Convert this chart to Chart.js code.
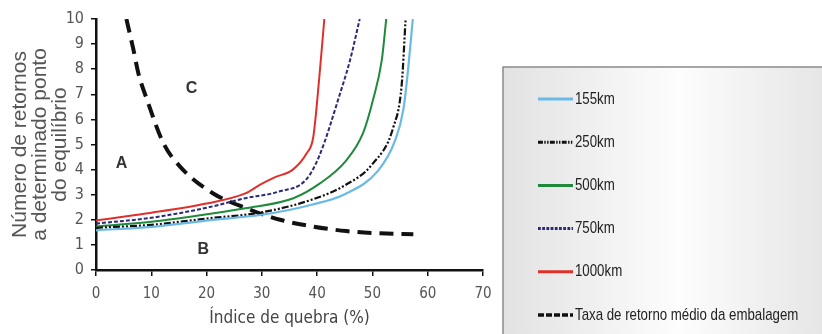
<!DOCTYPE html>
<html>
<head>
<meta charset="utf-8">
<script src="https://cdn.jsdelivr.net/npm/chart.js@4"></script>
<style>
    body { margin: 0; background: #fff; }
    #wrap { width: 822px; height: 334px; position: relative; }
</style>
</head>
<body>
<div id="wrap"><canvas id="breakChart"></canvas></div>
<script>
// ======== DATA ========
const xTicks = [0, 10, 20, 30, 40, 50, 60, 70];
const yTicks = [0, 1, 2, 3, 4, 5, 6, 7, 8, 9, 10];

const x155 = [0, 10, 20, 30, 39, 45, 51, 54, 55.6, 56.5, 57.3];
const y155 = [1.58, 1.72, 1.97, 2.2, 2.6, 3.02, 3.95, 5.1, 6.4, 8.1, 10];

const x250 = [0, 10, 20, 30, 39, 45, 50, 53.8, 55.3, 56];
const y250 = [1.68, 1.8, 2.05, 2.3, 2.8, 3.37, 4.22, 5.7, 7.4, 10];

const x500 = [0, 10, 20, 27, 35.7, 40.5, 45.2, 48.3, 50.1, 51.7, 52.5];
const y500 = [1.73, 1.92, 2.22, 2.46, 2.86, 3.45, 4.35, 5.45, 6.77, 8.37, 10];

const x750 = [0, 10, 20, 27, 33, 38, 40.4, 44.1, 46, 47.7];
const y750 = [1.85, 2.08, 2.48, 2.86, 3.12, 3.6, 4.55, 7.0, 8.4, 10];

const x1000 = [0, 9, 20, 27, 29.7, 32.4, 35.6, 38.1, 39.3, 40.4, 41.3];
const y1000 = [1.97, 2.25, 2.65, 3.05, 3.4, 3.7, 4.0, 4.65, 5.3, 7.7, 10];

const xTaxa = [5.5, 6.75, 7.65, 9.2, 12.2, 15.2, 21.2, 27.2, 33.3, 39.3, 45.3, 51.4, 57.4];
const yTaxa = [10, 8.8, 7.85, 6.8, 5.05, 4.12, 3.05, 2.46, 2.0, 1.73, 1.55, 1.46, 1.42];

const regionLabels = ["A", "B", "C"];
const regionX = [4.6, 19.4, 17.3];
const regionY = [4.25, 0.8, 7.24];

// ======== HELPERS ========
const toPoints = (xs, ys) => xs.map((x, i) => ({ x: x, y: ys[i] }));
const narrow = '"Liberation Sans Narrow", "Arial Narrow", "DejaVu Sans Condensed", sans-serif';
const arial = '"Liberation Sans", Arial, sans-serif';

function series(label, xs, ys, color, width, dash) {
    return {
        label: label,
        data: toPoints(xs, ys),
        borderColor: color,
        backgroundColor: color,
        borderWidth: width,
        borderDash: dash,
        pointRadius: 0,
        cubicInterpolationMode: "monotone",
        fill: false,
    };
}

// ======== LETTERS + LEGEND PLUGIN ========
const extras = {
    id: "extras",
    afterDatasetsDraw(chart) {
        const { ctx, scales } = chart;
        ctx.save();
        ctx.fillStyle = "#333";
        ctx.font = "bold 16px " + arial;
        ctx.textAlign = "center";
        ctx.textBaseline = "middle";
        regionLabels.forEach((t, i) => {
            ctx.fillText(t, scales.x.getPixelForValue(regionX[i]), scales.y.getPixelForValue(regionY[i]));
        });

        // legend box
        const bx = 503, by = 67;
        const grad = ctx.createLinearGradient(bx, 0, 822, 0);
        grad.addColorStop(0, "#e2e2e2");
        grad.addColorStop(0.55, "#fdfdfd");
        grad.addColorStop(1, "#e6e6e6");
        ctx.fillStyle = grad;
        ctx.fillRect(bx, by, 822 - bx, 334 - by);
        ctx.strokeStyle = "#8a8a8a";
        ctx.lineWidth = 1.5;
        ctx.beginPath();
        ctx.moveTo(bx, 334);
        ctx.lineTo(bx, by);
        ctx.lineTo(822, by);
        ctx.stroke();

        ctx.textAlign = "left";
        ctx.font = "17px " + arial;
        chart.data.datasets.forEach((ds, di) => {
            const y = 99 + di * 43.2;
            ctx.strokeStyle = ds.borderColor;
            ctx.lineWidth = di === 5 ? 3.5 : 3;
            ctx.setLineDash(di === 5 ? [6, 2] : (ds.borderDash || []).map((d) => d * 0.7));
            ctx.beginPath();
            ctx.moveTo(538, y);
            ctx.lineTo(573, y);
            ctx.stroke();
            ctx.setLineDash([]);
            ctx.fillStyle = "#222";
            ctx.save();
            ctx.translate(575, y);
            ctx.scale(0.78, 1);
            ctx.fillText(ds.label, 0, 0);
            ctx.restore();
        });
        ctx.restore();
    },
};

// ======== CHART ========
new Chart(document.getElementById("breakChart"), {
    type: "line",
    data: {
        datasets: [
            series("155km", x155, y155, "#6bb9e6", 2.2, []),
            series("250km", x250, y250, "#111111", 2.2, [7, 2, 2, 2, 2, 2]),
            series("500km", x500, y500, "#1f8a3c", 2, []),
            series("750km", x750, y750, "#2c2a78", 2, [4, 2]),
            series("1000km", x1000, y1000, "#e0302c", 2, []),
            series("Taxa de retorno médio da embalagem", xTaxa, yTaxa, "#111111", 4, [14, 8]),
        ],
    },
    options: {
        responsive: true,
        maintainAspectRatio: false,
        animation: false,
        layout: { padding: { left: 0, top: 19, right: 339, bottom: 0 } },
        plugins: { legend: { display: false }, tooltip: { enabled: false } },
        scales: {
            x: {
                type: "linear",
                min: 0,
                max: 70,
                afterFit: (s) => { s.height = 64; },
                afterBuildTicks: (s) => { s.ticks = xTicks.map((v) => ({ value: v })); },
                border: { display: true, color: "#111", width: 2.5 },
                grid: { drawOnChartArea: false, drawTicks: true, tickLength: 6, color: "#111", lineWidth: 1.5 },
                ticks: { color: "#555", padding: 9, font: { size: 15, family: narrow } },
                title: {
                    display: true,
                    text: "Índice de quebra (%)",
                    color: "#444",
                    font: { size: 17, family: narrow },
                    padding: { top: 2, bottom: 5 },
                },
            },
            y: {
                min: 0,
                max: 10,
                afterFit: (s) => { s.width = 96; },
                afterBuildTicks: (s) => { s.ticks = yTicks.map((v) => ({ value: v })); },
                border: { display: true, color: "#111", width: 2.5 },
                grid: { drawOnChartArea: false, drawTicks: true, tickLength: 5, color: "#111", lineWidth: 1.5 },
                ticks: { color: "#555", padding: 7, font: { size: 16, family: narrow } },
                title: {
                    display: true,
                    text: ["Número de retornos", "a determinado ponto", "do equilíbrio"],
                    color: "#555",
                    font: { size: 21, family: arial, lineHeight: 0.95 },
                    padding: { top: 10, bottom: 0 },
                },
            },
        },
    },
    plugins: [extras],
});
</script>
</body>
</html>
